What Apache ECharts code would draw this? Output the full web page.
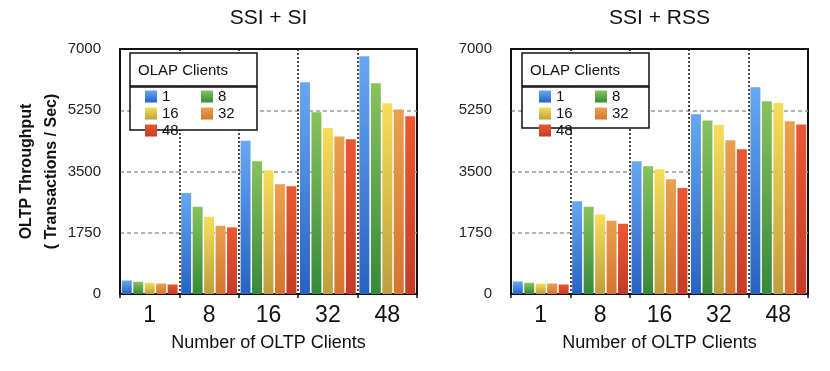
<!DOCTYPE html>
<html>
<head>
<meta charset="utf-8">
<script src="https://cdn.jsdelivr.net/npm/echarts@6/dist/echarts.min.js"></script>
<style>
html, body { margin: 0; padding: 0; background: #fff; }
#chart { width: 830px; height: 371px; }
</style>
</head>
<body>
<div id="chart"></div>
<script>
// OLTP client counts (x axis) and OLAP client counts (series)
const oltpClients = ['1', '8', '16', '32', '48'];
const olapClients = ['1', '8', '16', '32', '48'];

// SSI + SI, throughput (transactions / sec) per OLAP client count
const ssiSi1 = [386, 2885, 4382, 6051, 6795];
const ssiSi8 = [348, 2494, 3791, 5193, 6022];
const ssiSi16 = [320, 2208, 3533, 4745, 5450];
const ssiSi32 = [300, 1950, 3133, 4497, 5269];
const ssiSi48 = [272, 1903, 3076, 4421, 5078];

// SSI + RSS
const ssiRss1 = [358, 2647, 3791, 5136, 5908];
const ssiRss8 = [320, 2494, 3648, 4955, 5508];
const ssiRss16 = [300, 2275, 3562, 4831, 5460];
const ssiRss32 = [300, 2093, 3276, 4392, 4936];
const ssiRss48 = [272, 2007, 3028, 4135, 4840];

const yTicks = [0, 1750, 3500, 5250, 7000];

const chart = echarts.init(document.getElementById('chart'), null, { renderer: 'canvas' });

// top / bottom colours of each bar gradient
const barColors = [
    ['#66a8f2', '#2762c2'],
    ['#88c25c', '#368a3a'],
    ['#f7de58', '#bc9f3e'],
    ['#eaa04e', '#d6742e'],
    ['#ea5830', '#c43c28']
];

function grad(c) {
    return new echarts.graphic.LinearGradient(0, 0, 0, 1, [
        { offset: 0, color: c[0] },
        { offset: 1, color: c[1] }
    ]);
}

const font = 'Liberation Sans';

function xAxis(idx) {
    return {
        type: 'category',
        gridIndex: idx,
        data: oltpClients,
        axisLine: { lineStyle: { color: '#111', width: 1.5 } },
        axisTick: { show: true, length: 4, lineStyle: { color: '#111', width: 1.5 } },
        axisLabel: { fontSize: 23, color: '#111', margin: 10 },
        splitLine: {
            show: true, showMinLine: false, showMaxLine: false,
            lineStyle: { color: '#111', type: [2, 2], width: 1.5 }
        },
        name: 'Number of OLTP Clients',
        nameLocation: 'middle',
        nameGap: 40,
        nameTextStyle: { fontSize: 18, color: '#111' }
    };
}

function yAxis(idx, withName) {
    const ax = {
        type: 'value',
        gridIndex: idx,
        min: yTicks[0],
        max: yTicks[yTicks.length - 1],
        interval: 1750,
        axisLine: { show: true, lineStyle: { color: '#111', width: 1.5 } },
        axisTick: { show: false },
        axisLabel: { fontSize: 15, color: '#222', margin: 19, formatter: function (v) { return String(v); } },
        splitLine: {
            show: true, showMinLine: false, showMaxLine: false,
            lineStyle: { color: '#999', type: [4, 3], width: 1.5 }
        }
    };
    if (withName) {
        ax.name = 'OLTP Throughput\n( Transactions / Sec)';
        ax.nameLocation = 'middle';
        ax.nameRotate = 90;
        ax.nameGap = 56;
        ax.nameTextStyle = { fontSize: 16, fontWeight: 'bold', color: '#111', lineHeight: 25 };
    }
    return ax;
}

function barSeries(name, data, idx, colorIdx) {
    return {
        name: name,
        type: 'bar',
        xAxisIndex: idx,
        yAxisIndex: idx,
        data: data,
        barCategoryGap: '6%',
        barGap: '15%',
        itemStyle: { color: grad(barColors[colorIdx]) },
        emphasis: { disabled: true }
    };
}

const siData = [ssiSi1, ssiSi8, ssiSi16, ssiSi32, ssiSi48];
const rssData = [ssiRss1, ssiRss8, ssiRss16, ssiRss32, ssiRss48];

const series = [];
olapClients.forEach(function (n, i) { series.push(barSeries(n, siData[i], 0, i)); });
olapClients.forEach(function (n, i) { series.push(barSeries(n, rssData[i], 1, i)); });

function legend(names, left) {
    return {
        data: names,
        orient: 'vertical',
        left: left,
        top: 89,
        padding: 0,
        icon: 'rect',
        itemWidth: 12,
        itemHeight: 12,
        itemGap: 2,
        itemTextGap: 9,
        selectedMode: false,
        textStyle: { fontSize: 15, color: '#111', lineHeight: 12 },
        z: 10
    };
}

// legend frames and headings
function legendFrame(x, h2) {
    return [
        { type: 'rect', z: 8, shape: { x: x, y: 53, width: 127, height: 33 },
          style: { fill: '#fff', stroke: '#111', lineWidth: 1.5 } },
        { type: 'rect', z: 8, shape: { x: x, y: 87, width: 127, height: h2 },
          style: { fill: '#fff', stroke: '#111', lineWidth: 1.5 } },
        { type: 'text', z: 9, x: x + 8, y: 71,
          style: { text: 'OLAP Clients', fontSize: 15, fontFamily: font, fill: '#111', verticalAlign: 'middle' } }
    ];
}

chart.setOption({
    animation: false,
    textStyle: { fontFamily: font },
    grid: [
        { left: 120, top: 49, width: 297, height: 245, show: true, borderColor: '#111', borderWidth: 2 },
        { left: 511, top: 49, width: 297, height: 245, show: true, borderColor: '#111', borderWidth: 2 }
    ],
    xAxis: [xAxis(0), xAxis(1)],
    yAxis: [yAxis(0, true), yAxis(1, false)],
    legend: [
        legend(['1', '16', '48'], 145),
        legend(['8', '32'], 201),
        legend(['1', '16', '48'], 539),
        legend(['8', '32'], 595)
    ],
    graphic: [
        { type: 'text', x: 268.5, y: 18,
          style: { text: 'SSI + SI', fontSize: 21, fontFamily: font, fill: '#111', align: 'center', verticalAlign: 'middle' } },
        { type: 'text', x: 659.5, y: 18,
          style: { text: 'SSI + RSS', fontSize: 21, fontFamily: font, fill: '#111', align: 'center', verticalAlign: 'middle' } }
    ].concat(legendFrame(130, 43), legendFrame(522, 41)),
    series: series
});
</script>
</body>
</html>
